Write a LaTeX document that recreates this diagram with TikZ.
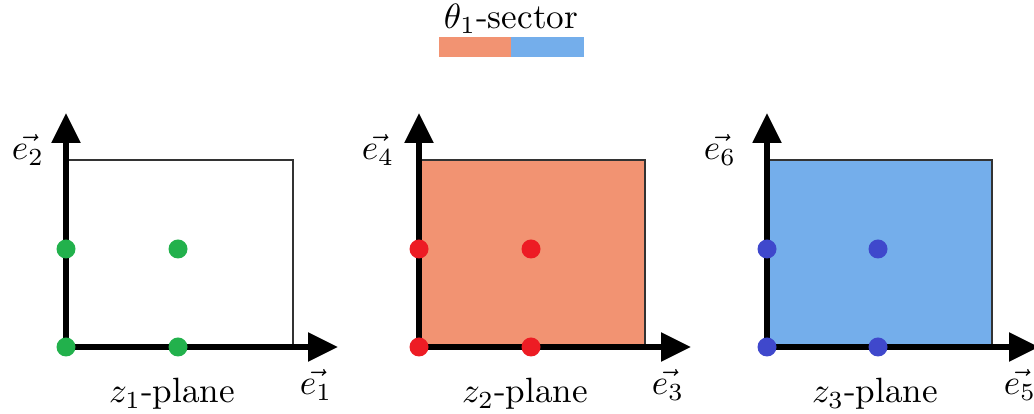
\documentclass[tikz,border=0pt]{standalone}
\usepackage{amsmath,amssymb}
\usepackage{xcolor}
\usepackage{tikz}
\usetikzlibrary{calc,arrows.meta}
\definecolor{salmon}{HTML}{F29372}
\definecolor{skyblue}{HTML}{74AEEB}
\definecolor{ptgreen}{HTML}{22B14C}
\definecolor{ptred}{HTML}{ED1C24}
\definecolor{ptblue}{HTML}{3F48CC}
\tikzset{ax/.style={line width=1.5pt,-{Triangle[length=0.3cm,width=0.28cm]}}}
\tikzset{box/.style={draw=black!80,line width=0.5pt}}
\tikzset{pt/.style={circle,inner sep=0pt,minimum size=0.19cm}}

\begin{document}
\begin{tikzpicture}
\useasboundingbox (0,0) rectangle (10.34,4.14);
% legend
\node (sec) at (5.11,3.95) {$\theta_1$-sector};
\fill[salmon] (4.39,3.57) rectangle (5.11,3.77);
\fill[skyblue] (5.11,3.57) rectangle (5.84,3.77);
% z1-plane
\coordinate (O1) at (0.66,0.67); \coordinate (X1) at (3.38,0.67); \coordinate (Y1) at (0.66,3.01);
\draw[box] (O1) rectangle (2.93,2.54);
\draw[ax] (O1)--(X1); \draw[ax] (O1)--(Y1);
\node[pt,fill=ptgreen] (a1) at (O1) {}; \node[pt,fill=ptgreen] (b1) at (1.78,0.67) {};
\node[pt,fill=ptgreen] (c1) at (0.66,1.65) {}; \node[pt,fill=ptgreen] (d1) at (1.78,1.65) {};
\node (e1) at (3.16,0.29) {$\vec{e_1}$}; \node (e2) at (0.28,2.64) {$\vec{e_2}$};
\node (z1) at (1.72,0.2) {$z_1$-plane};
% z2-plane
\coordinate (O2) at (4.19,0.67); \coordinate (X2) at (6.91,0.67); \coordinate (Y2) at (4.19,3.01);
\draw[box,fill=salmon] (O2) rectangle (6.45,2.54);
\draw[ax] (O2)--(X2); \draw[ax] (O2)--(Y2);
\node[pt,fill=ptred] (a2) at (O2) {}; \node[pt,fill=ptred] (b2) at (5.31,0.67) {};
\node[pt,fill=ptred] (c2) at (4.19,1.65) {}; \node[pt,fill=ptred] (d2) at (5.31,1.65) {};
\node (e3) at (6.68,0.29) {$\vec{e_3}$}; \node (e4) at (3.78,2.64) {$\vec{e_4}$};
\node (z2) at (5.25,0.2) {$z_2$-plane};
% z3-plane
\coordinate (O3) at (7.67,0.67); \coordinate (X3) at (10.39,0.67); \coordinate (Y3) at (7.67,3.01);
\draw[box,fill=skyblue] (O3) rectangle (9.92,2.54);
\draw[ax] (O3)--(X3); \draw[ax] (O3)--(Y3);
\node[pt,fill=ptblue] (a3) at (O3) {}; \node[pt,fill=ptblue] (b3) at (8.78,0.67) {};
\node[pt,fill=ptblue] (c3) at (7.67,1.65) {}; \node[pt,fill=ptblue] (d3) at (8.78,1.65) {};
\node (e5) at (10.2,0.29) {$\vec{e_5}$}; \node (e6) at (7.2,2.64) {$\vec{e_6}$};
\node (z3) at (8.75,0.2) {$z_3$-plane};
\end{tikzpicture}
\end{document}
